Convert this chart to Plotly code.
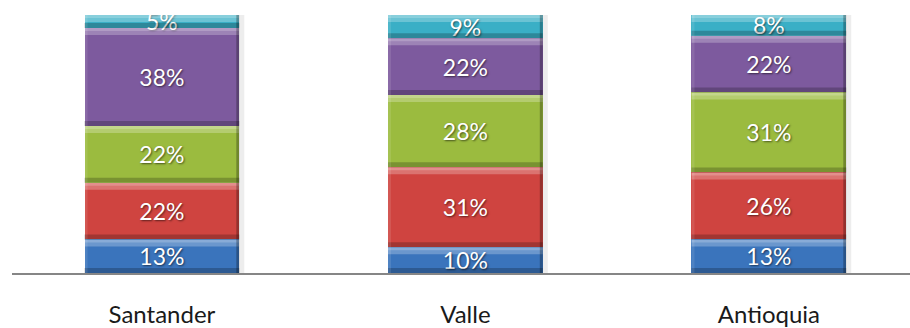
import plotly.graph_objects as go

# Share of each group per department (percent, stacks sum to 100)
departments = ["Santander", "Valle", "Antioquia"]
series_names = ["Grupo 1", "Grupo 2", "Grupo 3", "Grupo 4", "Grupo 5"]
grupo_1 = [13, 10, 13]
grupo_2 = [22, 31, 26]
grupo_3 = [22, 28, 31]
grupo_4 = [38, 22, 22]
grupo_5 = [5, 9, 8]

series_values = [grupo_1, grupo_2, grupo_3, grupo_4, grupo_5]
colors = ["#3A74BC", "#CF4440", "#9BBB3F", "#7D5A9E", "#3AAFC6"]

BAR_W = 0.51
HALF = BAR_W / 2

fig = go.Figure()
for name, vals, col in zip(series_names, series_values, colors):
    fig.add_trace(go.Bar(
        x=list(range(len(departments))),
        y=vals,
        name=name,
        width=BAR_W,
        marker=dict(color=col, line=dict(width=0)),
        text=[f"{v}%" for v in vals],
        textposition="inside",
        insidetextanchor="middle",
        textangle=0,
        constraintext="none",
        textfont=dict(family="Lato, Calibri, sans-serif", size=23, color="white",
                      shadow="1px 1px 2px rgba(0,0,0,0.55)"),
        hoverinfo="skip",
    ))

# Bevel-style highlights and shading on every stacked segment
shapes = []
for i in range(len(departments)):
    base = 0
    total = sum(s[i] for s in series_values)
    # soft drop shadow on the right side of each column
    shapes.append(dict(type="rect", layer="below", xref="x", yref="y",
                       xsizemode="pixel", xanchor=i + HALF, x0=0, x1=5,
                       y0=0, y1=total, line=dict(width=0),
                       fillcolor="rgba(0,0,0,0.07)"))
    for s in series_values:
        top = base + s[i]
        common = dict(type="rect", xref="x", yref="y", line=dict(width=0))
        # light band at the top edge
        shapes.append(dict(common, x0=i - HALF, x1=i + HALF,
                           ysizemode="pixel", yanchor=top, y0=-7, y1=0,
                           fillcolor="rgba(255,255,255,0.25)"))
        shapes.append(dict(common, x0=i - HALF, x1=i + HALF,
                           ysizemode="pixel", yanchor=top, y0=-3, y1=0,
                           fillcolor="rgba(255,255,255,0.2)"))
        # dark band at the bottom edge
        shapes.append(dict(common, x0=i - HALF, x1=i + HALF,
                           ysizemode="pixel", yanchor=base, y0=0, y1=5,
                           fillcolor="rgba(0,0,0,0.22)"))
        # dark right edge, lighter left edge
        shapes.append(dict(common, xsizemode="pixel", xanchor=i + HALF,
                           x0=-3, x1=0, y0=base, y1=top,
                           fillcolor="rgba(0,0,0,0.28)"))
        shapes.append(dict(common, xsizemode="pixel", xanchor=i - HALF,
                           x0=0, x1=3, y0=base, y1=top,
                           fillcolor="rgba(255,255,255,0.10)"))
        base = top

fig.update_layout(
    barmode="stack",
    width=910, height=328,
    margin=dict(l=12, r=0, t=15, b=55),
    paper_bgcolor="white", plot_bgcolor="white",
    showlegend=False,
    shapes=shapes,
    xaxis=dict(
        tickmode="array",
        tickvals=list(range(len(departments))),
        ticktext=departments,
        range=[-0.494, 2.465],
        automargin=False,
        showline=True, linecolor="#868686", linewidth=1.5,
        ticks="", showgrid=False, zeroline=False,
        tickfont=dict(family="Lato, Calibri, sans-serif", size=24, color="#1a1a1a"),
        ticklabelstandoff=19,
    ),
    yaxis=dict(range=[0, 100], visible=False, showgrid=False, zeroline=False,
               automargin=False),
)

fig.write_html("out.html")
